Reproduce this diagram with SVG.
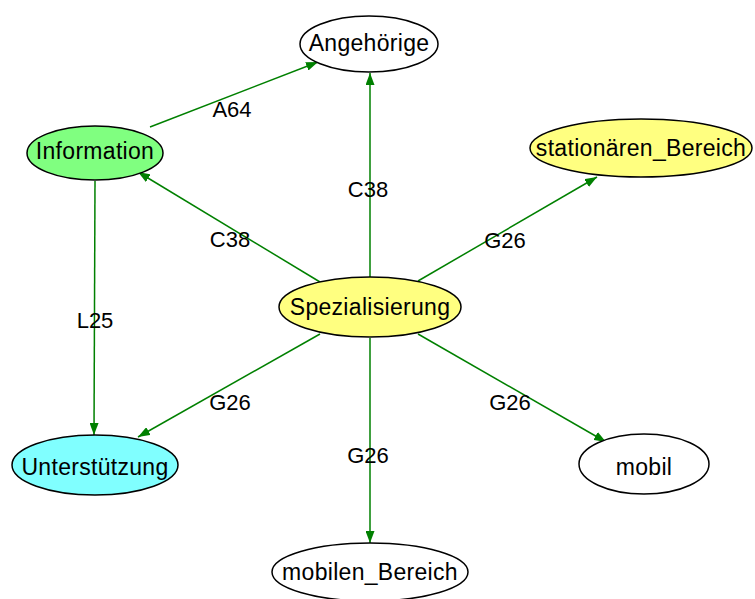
<svg xmlns="http://www.w3.org/2000/svg" width="755" height="599" viewBox="0 0 755 599">
  <style>
    .node ellipse { stroke: #000; stroke-width: 1.5; }
    .node text, .lbl { font-family: "Liberation Sans", Arial, sans-serif; font-size: 22px; fill: #000; text-anchor: middle; }
    .node text { font-size: 23px; letter-spacing: 0.3px; }
    .edge { stroke: #008000; stroke-width: 1.5; fill: none; marker-end: url(#arr); }
  </style>
  <defs>
    <marker id="arr" markerUnits="userSpaceOnUse" markerWidth="13" markerHeight="9" refX="12" refY="4.5" orient="auto">
      <path d="M0,0 L12,4.5 L0,9 z" fill="#008000"/>
    </marker>
  </defs>
  <rect width="755" height="599" fill="#fff"/>

  <g id="connectors">
    <line class="edge" x1="150" y1="127" x2="318" y2="62"/>
    <line class="edge" x1="370" y1="277" x2="370" y2="73"/>
    <line class="edge" x1="320" y1="282" x2="138" y2="172"/>
    <line class="edge" x1="418" y1="281" x2="597" y2="177"/>
    <line class="edge" x1="95" y1="181" x2="94" y2="435"/>
    <line class="edge" x1="320" y1="334" x2="138" y2="437"/>
    <line class="edge" x1="370" y1="338" x2="370" y2="543"/>
    <line class="edge" x1="418" y1="334" x2="606" y2="442"/>
    <text class="lbl" x="232" y="117">A64</text>
    <text class="lbl" x="368" y="197">C38</text>
    <text class="lbl" x="230" y="247">C38</text>
    <text class="lbl" x="505" y="248">G26</text>
    <text class="lbl" x="95" y="328">L25</text>
    <text class="lbl" x="230" y="410">G26</text>
    <text class="lbl" x="368" y="463">G26</text>
    <text class="lbl" x="510" y="410">G26</text>
  </g>

  <g id="Angehoerige" class="node">
    <ellipse cx="369" cy="44" rx="69" ry="28" fill="#fff"/>
    <text x="369" y="51">Angehörige</text>
  </g>
  <g id="Information" class="node">
    <ellipse cx="95" cy="153" rx="68" ry="27" fill="#80ff80"/>
    <text x="95" y="159">Information</text>
  </g>
  <g id="stationaeren_Bereich" class="node">
    <ellipse cx="641" cy="148" rx="111" ry="29" fill="#ffff80"/>
    <text x="641" y="156">stationären_Bereich</text>
  </g>
  <g id="Spezialisierung" class="node">
    <ellipse cx="370" cy="307" rx="91" ry="30" fill="#ffff80"/>
    <text x="370" y="315">Spezialisierung</text>
  </g>
  <g id="Unterstuetzung" class="node">
    <ellipse cx="95" cy="465" rx="83" ry="30" fill="#80ffff"/>
    <text x="95" y="475">Unterstützung</text>
  </g>
  <g id="mobilen_Bereich" class="node">
    <ellipse cx="370" cy="572" rx="98" ry="29" fill="#fff"/>
    <text x="370" y="580">mobilen_Bereich</text>
  </g>
  <g id="mobil" class="node">
    <ellipse cx="644" cy="464" rx="65" ry="30" fill="#fff"/>
    <text x="644" y="475">mobil</text>
  </g>
</svg>
